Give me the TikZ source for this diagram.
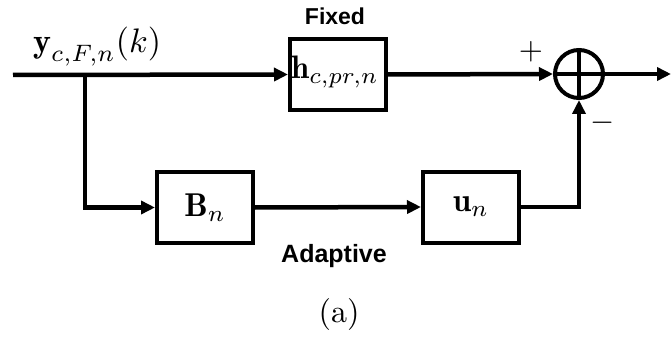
\documentclass[tikz,border=0pt]{standalone}
\usepackage{graphicx}
\usepackage{fontspec}
\newfontfamily\labelfont{Liberation Sans}
\usetikzlibrary{arrows.meta}
% math set at 10pt and enlarged, so sub- and superscripts keep their small-size designs
\newcommand{\enlargedmath}[2][3.1]{\scalebox{#1}{#2}}
\newcommand{\lowsub}[1]{\lower1.2pt\hbox{$\scriptstyle #1$}}
\begin{document}
\begin{tikzpicture}[x=1pt,y=-1pt,
  sig/.style={line width=4.5pt},
  arr/.style={sig,-{Triangle[length=14pt,width=13pt]}},
  blk/.style={draw,line width=4pt,minimum width=96pt,minimum height=71pt,inner sep=0pt},
  mathlbl/.style={inner sep=0pt},
  tag/.style={inner sep=0pt,font=\fontsize{23}{23}\selectfont\labelfont\bfseries}]
\useasboundingbox (0,0) rectangle (672,342);

% blocks
\node[blk] (h) at (338,74.5) {};
\node[blk] (B) at (205,207.5) {\enlargedmath[3.3]{$\mathbf{B}_n$}};
\node[blk] (u) at (471,207) {\enlargedmath[3.3]{$\mathbf{u}_n$}};
\node[mathlbl,anchor=base west] (hlbl) at (291,79) {\enlargedmath[3.25]{$\mathbf{h}_{c,pr,n}$}};

% summing junction
\node[circle,draw,line width=4pt,minimum size=48pt,inner sep=0pt] (s) at (579,74) {};
\draw[line width=4pt] (s.north) -- (s.south) (s.west) -- (s.east);

% free ends and corners
\coordinate (in) at (13,75);
\coordinate (br) at (85,75);
\coordinate (out) at (671,74);

% signal lines
\draw[arr] (in) -- (h.west);
\draw[arr] (br) |- (B.west);
\draw[arr] (B.east) -- (u.west);
\draw[arr] (u.east) -| (s.south);
\draw[arr] (h.east) -- (s.west);
\draw[arr] (s.east) -- (out);

% labels
\node[mathlbl,anchor=base west] (ylbl) at (33,52.5) {\enlargedmath[3.4]{$\mathbf{y}_{\lowsub{c,F,n}}(k)$}};
\node[tag,anchor=base] (fixed) at (335,25) {Fixed};
\node[tag,anchor=base,font=\fontsize{25}{25}\selectfont\labelfont\bfseries] (adapt) at (334,262) {Adaptive};
\node[mathlbl] (plus) at (531,51.5) {\enlargedmath{$+$}};
\node[mathlbl] (minus) at (603,123) {\enlargedmath{$-$}};
\node[mathlbl,anchor=base] (cap) at (339,322) {\enlargedmath[3.2]{(a)}};
\end{tikzpicture}
\end{document}
